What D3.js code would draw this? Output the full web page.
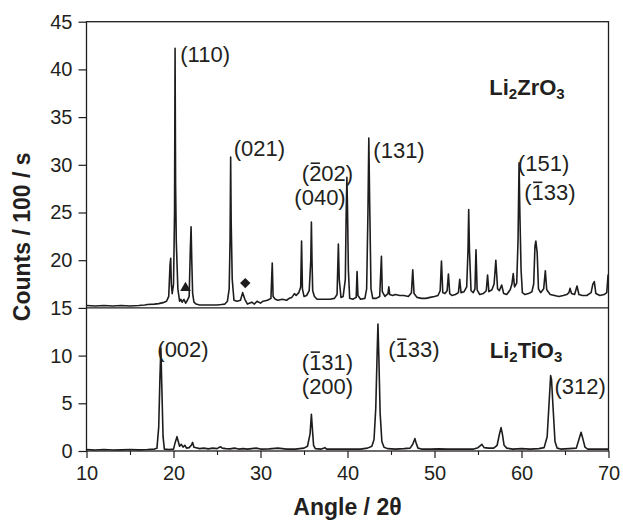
<!DOCTYPE html>
<html>
<head>
<meta charset="utf-8">
<script src="https://cdn.jsdelivr.net/npm/d3@7/dist/d3.min.js"></script>
<style>
  html, body { margin: 0; padding: 0; background: #fff; }
  svg { display: block; }
  text { font-family: "Liberation Sans", Arial, sans-serif; fill: #231f20; }
</style>
</head>
<body>
<svg id="chart" width="623" height="520"></svg>
<script>
// XRD patterns, [2θ, counts/100/s]; Li2ZrO3 is stacked above Li2TiO3 on the shared axis
const zirconate = [
  [10.0,15.25],[11.0,15.2],[12.0,15.25],[13.0,15.2],[14.0,15.25],[15.0,15.2],[16.0,15.25],[16.7,15.3],
  [17.0,15.35],[17.8,15.4],[18.3,15.45],[18.8,15.55],[19.2,15.7],[19.45,16.2],[19.6,19.5],[19.68,20.2],
  [19.75,17.5],[19.85,16.5],[20.0,17.5],[20.06,21],[20.12,25],[20.18,42.2],[20.24,28],[20.32,22],[20.5,17],
  [20.7,15.7],[20.85,15.9],[21.0,15.6],[21.2,15.9],[21.4,15.5],[21.6,15.8],[21.8,16.2],[21.93,21],
  [22.02,23.5],[22.1,20],[22.2,16.5],[22.35,15.6],[22.6,15.4],[23.0,15.3],[24.0,15.3],[25.0,15.3],
  [25.5,15.35],[25.9,15.4],[26.2,15.7],[26.4,17],[26.5,22],[26.57,30.8],[26.63,24],[26.75,18],
  [26.95,15.8],[27.3,15.7],[27.7,15.8],[27.95,16.6],[28.2,15.9],[28.5,15.4],[29.0,15.6],[29.3,15.4],
  [29.6,15.7],[30.0,15.5],[30.3,15.7],[30.8,15.8],[31.2,16.0],[31.35,19.7],[31.45,16.2],[31.7,15.9],
  [32.0,15.8],[32.5,15.9],[33.0,15.8],[33.3,16.0],[33.6,16.1],[33.9,16.5],[34.1,16.3],[34.4,16.6],
  [34.62,17.2],[34.72,22.0],[34.82,17.0],[35.0,16.2],[35.3,16.3],[35.6,16.8],[35.78,20],[35.85,24.0],
  [35.92,20],[36.0,16.8],[36.2,16.2],[36.5,15.9],[37.0,15.9],[37.5,15.9],[38.0,15.9],[38.5,16.0],
  [38.8,16.4],[38.95,21.7],[39.05,18],[39.25,16.1],[39.5,16.2],[39.75,18],[39.85,25],[39.93,28.7],
  [40.0,25.5],[40.1,19],[40.25,16.0],[40.6,15.9],[41.0,16.1],[41.1,18.8],[41.2,16.3],[41.5,15.9],
  [42.0,16.0],[42.2,17],[42.35,25],[42.45,32.8],[42.55,26],[42.7,17],[42.9,16.0],[43.3,16.0],
  [43.7,16.2],[43.9,20.4],[44.0,16.7],[44.3,16.2],[44.65,16.5],[44.75,17.2],[44.85,16.4],[45.2,16.3],
  [45.5,16.4],[46.0,16.3],[46.5,16.3],[47.0,16.2],[47.35,16.6],[47.5,19.0],[47.65,16.5],[48.0,16.1],
  [48.5,16.0],[49.0,16.0],[49.5,16.1],[50.0,16.2],[50.4,16.3],[50.65,16.8],[50.8,19.9],[50.95,16.6],
  [51.2,16.5],[51.45,16.8],[51.6,18.55],[51.75,16.5],[52.0,16.3],[52.4,16.4],[52.75,16.6],[52.9,18.0],
  [53.05,16.6],[53.4,16.7],[53.7,17.2],[53.85,21],[53.93,25.3],[54.02,21],[54.2,16.8],[54.45,16.6],
  [54.65,17],[54.77,21.1],[54.9,16.9],[55.2,16.4],[55.6,16.5],[55.95,16.8],[56.1,18.45],[56.25,16.7],
  [56.6,16.9],[56.85,17.5],[57.05,20.0],[57.25,17.0],[57.45,16.8],[57.72,17.4],[57.95,16.5],[58.3,16.4],
  [58.7,16.9],[58.9,17.5],[59.05,18.6],[59.2,17.2],[59.45,17.6],[59.6,22],[59.72,30.2],[59.82,24.6],
  [59.95,19],[60.1,16.6],[60.4,16.4],[60.8,16.5],[61.2,16.7],[61.4,17.5],[61.55,21.5],[61.65,22.0],
  [61.8,20.8],[61.95,17],[62.2,16.6],[62.55,17],[62.74,18.9],[62.9,16.9],[63.3,16.4],[63.8,16.3],
  [64.3,16.2],[64.8,16.3],[65.2,16.4],[65.45,16.6],[65.58,17.05],[65.75,16.5],[66.1,16.4],[66.38,17.3],
  [66.6,16.4],[67.0,16.3],[67.5,16.3],[68.0,16.6],[68.2,17.5],[68.37,17.75],[68.55,16.5],[69.0,16.3],
  [69.5,16.4],[69.8,16.6],[69.95,18.45],[70.0,18.4]
];

const titanate = [
  [10.0,0.15],[11.0,0.1],[12.0,0.15],[13.0,0.1],[14.0,0.12],[15.0,0.15],[16.0,0.12],[17.0,0.15],
  [17.8,0.2],[18.1,0.3],[18.3,2.5],[18.45,8],[18.55,10.8],[18.65,7],[18.8,1.5],[18.95,0.2],
  [19.5,0.15],[20.0,0.2],[20.2,0.9],[20.4,1.5],[20.55,1.0],[20.7,0.5],[20.9,0.7],[21.1,0.4],
  [21.3,0.6],[21.5,0.3],[21.8,0.35],[22.05,0.6],[22.2,0.9],[22.35,0.4],[22.6,0.35],[23.0,0.25],
  [23.5,0.3],[24.0,0.22],[24.5,0.3],[25.0,0.25],[25.4,0.45],[25.6,0.3],[26.0,0.25],[26.5,0.22],
  [27.0,0.3],[27.5,0.2],[28.0,0.25],[28.5,0.2],[29.0,0.25],[29.5,0.3],[30.0,0.2],[31.0,0.22],
  [32.0,0.3],[33.0,0.2],[34.0,0.2],[34.5,0.25],[35.0,0.3],[35.4,0.5],[35.7,1.8],[35.85,3.85],
  [35.95,2.5],[36.1,0.6],[36.3,0.25],[37.0,0.2],[37.4,0.35],[37.6,0.2],[38.5,0.2],[39.5,0.2],
  [40.5,0.2],[41.5,0.2],[42.3,0.3],[42.8,0.5],[43.05,1.2],[43.25,4.5],[43.4,10],[43.5,13.3],
  [43.6,10],[43.75,4],[43.95,1.0],[44.2,0.4],[44.6,0.25],[45.5,0.2],[46.5,0.25],[47.2,0.3],
  [47.5,0.7],[47.75,1.3],[47.9,0.8],[48.1,0.3],[48.5,0.2],[49.5,0.2],[50.5,0.22],[51.5,0.2],
  [52.5,0.2],[53.5,0.2],[54.5,0.2],[55.0,0.35],[55.45,0.7],[55.7,0.35],[56.2,0.3],[56.8,0.3],
  [57.2,0.6],[57.45,1.7],[57.65,2.45],[57.8,1.8],[58.0,0.6],[58.3,0.3],[59.0,0.2],[60.0,0.25],
  [61.0,0.2],[62.0,0.25],[62.6,0.35],[62.95,1.5],[63.2,5.5],[63.35,7.9],[63.45,7.5],[63.6,5],
  [63.85,1.0],[64.1,0.3],[64.5,0.2],[65.5,0.25],[66.3,0.3],[66.6,1.2],[66.85,1.96],[67.05,1.3],
  [67.3,0.4],[67.6,0.2],[68.5,0.2],[69.5,0.2],[70.0,0.2]
];

// axis ticks
const xMajorTicks = [10, 20, 30, 40, 50, 60, 70];
const xMinorTicks = [15, 25, 35, 45, 55, 65];
const yTicks = [0, 5, 10, 15, 20, 25, 30, 35, 40, 45];
const panelSplit = 15;

// reflection indices: text start and baseline in data units; bar = index of barred digit
const reflections = [
  { text: "(110)", angle: 20.78, counts: 40.8 },
  { text: "(021)", angle: 26.93, counts: 30.9 },
  { text: "(202)", angle: 34.75, counts: 28.3, bar: 1 },
  { text: "(040)", angle: 33.89, counts: 25.8 },
  { text: "(131)", angle: 42.97, counts: 30.7 },
  { text: "(151)", angle: 59.58, counts: 29.35 },
  { text: "(133)", angle: 60.32, counts: 26.3, bar: 1 },
  { text: "(002)", angle: 18.14, counts: 9.85 },
  { text: "(131)", angle: 34.75, counts: 8.5, bar: 1 },
  { text: "(200)", angle: 34.75, counts: 5.97 },
  { text: "(133)", angle: 44.69, counts: 9.85, bar: 1 },
  { text: "(312)", angle: 63.78, counts: 5.97 }
];

// compound names with subscripts
const phases = [
  { parts: [["Li", false], ["2", true], ["ZrO", false], ["3", true]], angle: 56.3, counts: 37.3 },
  { parts: [["Li", false], ["2", true], ["TiO", false], ["3", true]], angle: 56.35, counts: 9.75 }
];

// impurity markers on the Li2ZrO3 pattern
const impurityMarks = [
  { shape: "triangle", angle: 21.38, counts: 17.1 },
  { shape: "diamond", angle: 28.25, counts: 17.6 }
];

const svg = d3.select("#chart");
const margin = { left: 86.5, right: 14.5, top: 21.7, bottom: 69 };
const W = 623, H = 520;
const x = d3.scaleLinear().domain([10, 70]).range([margin.left, W - margin.right]);
const y = d3.scaleLinear().domain([0, 45]).range([H - margin.bottom, margin.top]);
const ink = "#1f1c1d";

svg.append("defs").append("clipPath").attr("id", "plotClip")
  .append("rect")
  .attr("x", x(10)).attr("y", y(45))
  .attr("width", x(70) - x(10)).attr("height", y(0) - y(45));

// patterns
const line = d3.line().x(d => x(d[0])).y(d => y(d[1]));
const traces = svg.append("g").attr("clip-path", "url(#plotClip)");
[zirconate, titanate].forEach(series => {
  traces.append("path")
    .datum(series)
    .attr("d", line)
    .attr("fill", "none")
    .attr("stroke", ink)
    .attr("stroke-width", 1.6)
    .attr("stroke-linejoin", "round");
});

// frame and panel divider
svg.append("rect")
  .attr("x", x(10)).attr("y", y(45))
  .attr("width", x(70) - x(10)).attr("height", y(0) - y(45))
  .attr("fill", "none").attr("stroke", ink).attr("stroke-width", 1.3);
svg.append("line")
  .attr("x1", x(10)).attr("x2", x(70))
  .attr("y1", y(panelSplit)).attr("y2", y(panelSplit))
  .attr("stroke", ink).attr("stroke-width", 1.1);

// y axis
const yAxis = svg.append("g")
  .attr("transform", `translate(${x(10)},0)`)
  .call(d3.axisLeft(y).tickValues(yTicks).tickSize(8).tickPadding(6).tickFormat(d3.format("d")));
yAxis.select(".domain").remove();
yAxis.selectAll("line").attr("stroke", ink).attr("stroke-width", 1.2);
yAxis.selectAll("text")
  .attr("fill", "#231f20").style("font-size", "20px")
  .style("font-family", "'Liberation Sans', Arial, sans-serif");

// x axis, major and minor ticks
const xAxis = svg.append("g")
  .attr("transform", `translate(0,${y(0)})`)
  .call(d3.axisBottom(x).tickValues(xMajorTicks).tickSize(7).tickPadding(8).tickFormat(d3.format("d")));
xAxis.select(".domain").remove();
xAxis.selectAll("line").attr("stroke", ink).attr("stroke-width", 1.2);
xAxis.selectAll("text")
  .attr("fill", "#231f20").style("font-size", "20px")
  .style("font-family", "'Liberation Sans', Arial, sans-serif");
const xMinor = svg.append("g")
  .attr("transform", `translate(0,${y(0)})`)
  .call(d3.axisBottom(x).tickValues(xMinorTicks).tickSize(4).tickFormat(""));
xMinor.select(".domain").remove();
xMinor.selectAll("line").attr("stroke", ink).attr("stroke-width", 1.1);

// axis titles
svg.append("text")
  .attr("transform", `translate(30,${(y(0) + y(45)) / 2 + 0.5}) rotate(-90)`)
  .attr("text-anchor", "middle")
  .style("font-size", "23px").style("font-weight", "bold")
  .text("Counts / 100 / s");
svg.append("text")
  .attr("x", (x(10) + x(70)) / 2).attr("y", 515)
  .attr("text-anchor", "middle")
  .style("font-size", "23px").style("font-weight", "bold")
  .text("Angle / 2θ");

// reflection labels, with overbars for negative indices
const labelG = svg.append("g");
reflections.forEach(r => {
  const t = labelG.append("text")
    .attr("x", x(r.angle)).attr("y", y(r.counts))
    .style("font-size", "22px")
    .text(r.text);
  if (r.bar !== undefined) {
    const box = t.node().getExtentOfChar(r.bar);
    labelG.append("line")
      .attr("x1", box.x + 1.5).attr("x2", box.x + box.width - 1.5)
      .attr("y1", y(r.counts) - 17.8).attr("y2", y(r.counts) - 17.8)
      .attr("stroke", "#231f20").attr("stroke-width", 1.6);
  }
});

// compound names
phases.forEach(p => {
  const t = svg.append("text")
    .attr("x", x(p.angle)).attr("y", y(p.counts))
    .style("font-size", "22px").style("font-weight", "bold");
  p.parts.forEach(([s, sub]) => {
    const ts = t.append("tspan").text(s);
    if (sub) ts.style("font-size", "15px").attr("dy", 4);
    else ts.attr("dy", t.selectAll("tspan").size() > 1 ? -4 : 0);
  });
});

// impurity markers
const shapes = { triangle: d3.symbolTriangle, diamond: d3.symbolSquare };
svg.append("g").selectAll("path")
  .data(impurityMarks)
  .join("path")
  .attr("transform", d => `translate(${x(d.angle)},${y(d.counts)})` + (d.shape === "diamond" ? " rotate(45)" : ""))
  .attr("d", d => d3.symbol().type(shapes[d.shape]).size(d.shape === "diamond" ? 54 : 50)())
  .attr("fill", ink);
</script>
</body>
</html>
